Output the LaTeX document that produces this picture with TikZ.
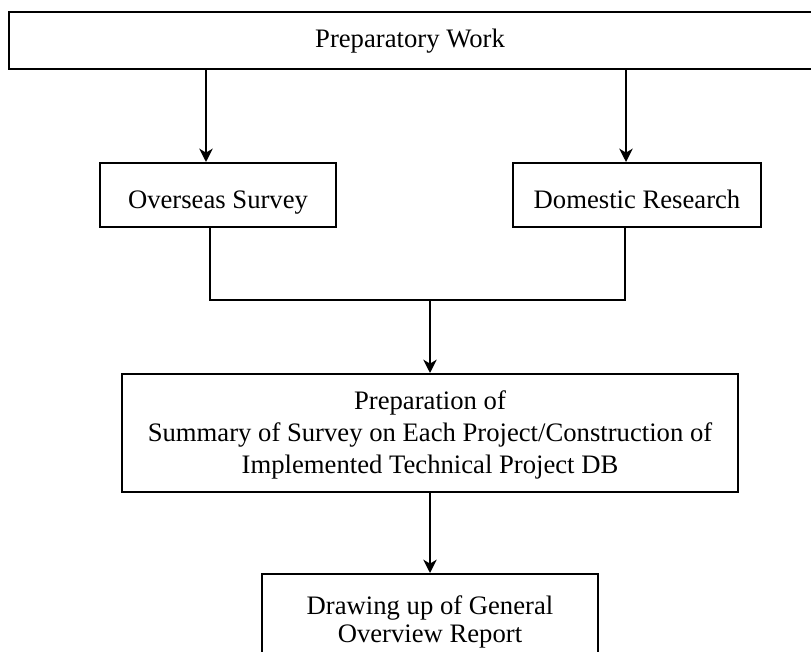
\documentclass[tikz,border=0pt]{standalone}
\usepackage{fontspec}
\setmainfont{Liberation Serif}
\usetikzlibrary{arrows.meta}
\begin{document}
\begin{tikzpicture}[x=0.75pt,y=-0.75pt,
  box/.style={draw, line width=1.5pt, rectangle, inner sep=0pt},
  txt/.style={inner sep=0pt, align=center, font=\fontsize{20}{24}\selectfont},
  arr/.style={line width=1.5pt, -{Stealth[length=10pt,width=10pt,inset=3pt]}},
  link/.style={line width=1.5pt}]
\useasboundingbox (0,0) rectangle (811,652);
% boxes
\node[box, minimum width=602.25pt, minimum height=42.75pt] (top) at (410.5,40.5) {};
\node[box, minimum width=177pt, minimum height=48pt] (ov) at (218,195) {};
\node[box, minimum width=186pt, minimum height=48pt] (dom) at (637,195) {};
\node[box, minimum width=462pt, minimum height=88.5pt] (mid) at (430,433) {};
\node[box, minimum width=252pt, minimum height=74.25pt] (bot) at (430,623.5) {};
% texts
\node[txt, anchor=base] (topt) at (410,48) {Preparatory Work};
\node[txt, anchor=base] (ovt) at (218,209) {Overseas Survey};
\node[txt, anchor=base] (domt) at (637,209) {Domestic Research};
\node[txt, yshift=-1.5pt] (midt) at (mid.center)
  {Preparation of\\Summary of Survey on Each Project/Construction of\\Implemented Technical Project DB};
\node[txt, font=\fontsize{20}{21}\selectfont, yshift=1pt] (bott) at (bot.center)
  {Drawing up of General\\Overview Report};
% connectors
\coordinate (a1) at (206,0);
\coordinate (a2) at (626,0);
\coordinate (b1) at (210,0);
\coordinate (b2) at (625,0);
\coordinate (join) at (430,300);
\draw[arr] (top.south -| a1) -- (ov.north -| a1);
\draw[arr] (top.south -| a2) -- (dom.north -| a2);
\draw[link] (ov.south -| b1) |- (join) -| (dom.south -| b2);
\draw[arr] (join) -- (mid.north);
\draw[arr] (mid.south) -- (bot.north);
\end{tikzpicture}
\end{document}
